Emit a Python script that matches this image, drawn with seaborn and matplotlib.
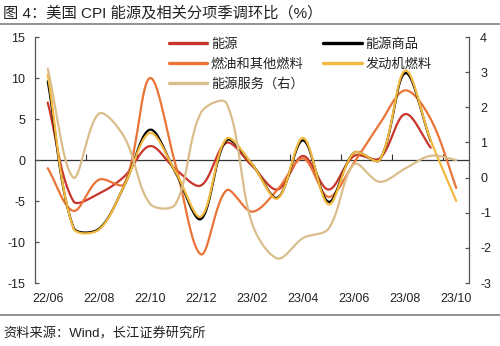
import numpy as np
import pandas as pd
import matplotlib
matplotlib.use("Agg")
import matplotlib.pyplot as plt
from matplotlib.lines import Line2D
import seaborn as sns

# Monthly m/m change (seasonally adjusted), %
months = ["22/06", "22/07", "22/08", "22/09", "22/10", "22/11", "22/12",
          "23/01", "23/02", "23/03", "23/04", "23/05", "23/06", "23/07",
          "23/08", "23/09", "23/10"]
energy = [7.0, -5.0, -4.1, -2.0, 1.7, -1.1, -3.1, 2.1, -0.7, -3.6, 0.5,
          -3.6, 0.5, 0.2, 5.6, 1.5, np.nan]
energy_goods = [9.6, -8.2, -8.4, -3.1, 3.7, -1.5, -7.2, 2.4, -0.5, -4.6, 2.4,
                -5.1, 0.9, 0.0, 10.6, 2.3, np.nan]
fuel_oil = [-1.0, -6.2, -2.4, -2.9, 10.0, -0.5, -11.5, -3.7, -6.3, -3.6, 0.2,
            -4.5, -0.3, 4.4, 8.5, 5.0, -3.4]
motor_fuel = [10.4, -8.3, -8.5, -3.1, 3.3, -1.4, -6.9, 2.6, -0.5, -4.7, 2.7,
              -5.4, 0.9, 0.0, 10.9, 2.4, -5.0]
energy_services = [3.1, 0.0, 1.82, 1.15, -0.74, -0.76, 1.85, 2.12, -1.3, -2.3,
                   -1.72, -1.45, 0.38, -0.12, 0.26, 0.62, 0.5]

names_left = ["能源", "燃油和其他燃料", "能源商品", "发动机燃料"]
name_right = "能源服务（右）"
colors = {"能源": "#C8352B", "燃油和其他燃料": "#EA7438", "能源商品": "#000000",
          "发动机燃料": "#F3B83E", name_right: "#D9BE8C"}


def smooth_xy(values, sx, sy, n=24):
    """Chord-weighted cubic Bezier path through the monthly points."""
    y = np.asarray(values, float)
    idx = np.flatnonzero(~np.isnan(y))
    P = np.column_stack([idx * sx, y[idx] * sy])
    m = len(P)
    parts = [P[:1]]
    t = np.linspace(0, 1, n)[1:, None]
    for k in range(m - 1):
        p0 = P[k - 1] if k > 0 else P[k]
        p1, p2 = P[k], P[k + 1]
        p3 = P[k + 2] if k + 2 < m else P[k + 1]
        d01 = np.hypot(*(p1 - p0))
        d12 = np.hypot(*(p2 - p1))
        d23 = np.hypot(*(p3 - p2))
        c1 = p1 + (p2 - p0) * (d12 / (d01 + d12)) / 3
        c2 = p2 - (p3 - p1) * (d12 / (d12 + d23)) / 3
        seg = ((1 - t) ** 3) * p1 + 3 * ((1 - t) ** 2) * t * c1 \
            + 3 * (1 - t) * t ** 2 * c2 + t ** 3 * p2
        parts.append(seg)
    pts = np.vstack(parts)
    return pts[:, 0] / sx, pts[:, 1] / sy


sns.set_theme(style="white")
plt.rcParams["font.family"] = ["Liberation Sans", "Noto Sans CJK SC"]
plt.rcParams["axes.unicode_minus"] = False

left_series = {"能源": energy, "燃油和其他燃料": fuel_oil,
               "能源商品": energy_goods, "发动机燃料": motor_fuel}
frames = []
for name in names_left:
    xs, ys = smooth_xy(left_series[name], 25.5, 8.2)
    frames.append(pd.DataFrame({"x": xs, "value": ys, "series": name}))
df_left = pd.concat(frames, ignore_index=True)

xs, ys = smooth_xy(energy_services, 25.5, 35.1)
df_right = pd.DataFrame({"x": xs, "value": ys, "series": name_right})

fig = plt.figure(figsize=(5.0, 3.46), dpi=100)
ax = fig.add_axes([0.07, 0.182, 0.868, 0.711])

sns.lineplot(data=df_left, x="x", y="value", hue="series", hue_order=names_left,
             palette=colors, sort=False, estimator=None, linewidth=1.6,
             legend=False, ax=ax)
ax2 = ax.twinx()
sns.lineplot(data=df_right, x="x", y="value", color=colors[name_right],
             sort=False, estimator=None, linewidth=1.6, legend=False, ax=ax2)

ax.set_xlim(-0.5, 16.5)
ax.set_ylim(-15, 15)
ax2.set_ylim(-3, 4)
ax.set_yticks(np.arange(-15, 16, 5))
ax2.set_yticks(np.arange(-3, 5, 1))
ax.set_xticks(np.arange(0, len(months), 2))
ax.set_xticklabels(months[::2])
for a in (ax, ax2):
    a.set_xlabel("")
    a.set_ylabel("")

spine_col = "#555555"
text_col = "#222222"
ax.spines["top"].set_visible(False)
ax.spines["bottom"].set_visible(False)
ax.spines["right"].set_visible(False)
ax.spines["left"].set_color(spine_col)
ax2.spines["top"].set_visible(False)
ax2.spines["bottom"].set_visible(False)
ax2.spines["left"].set_visible(False)
ax2.spines["right"].set_color(spine_col)
for a in (ax, ax2):
    for s in a.spines.values():
        s.set_linewidth(0.9)

ax.tick_params(axis="x", length=0, pad=7, labelsize=9, labelcolor=text_col)
ax.tick_params(axis="y", direction="in", length=3, width=0.9, color=spine_col,
               pad=7, labelsize=9, labelcolor=text_col, left=True)
ax2.tick_params(axis="y", direction="in", length=3, width=0.9, color=spine_col,
                pad=8, labelsize=9, labelcolor=text_col, right=True)

# zero line of the left axis with its own tick marks
zero_axis = ax.secondary_xaxis(0.5)
zero_axis.set_xticks(np.arange(1.5, 16, 2))
zero_axis.tick_params(axis="x", direction="out", length=4, width=0.8,
                      color="#333333", labeltop=False, labelbottom=False)
for s in zero_axis.spines.values():
    s.set_color("#333333")
    s.set_linewidth(0.9)

order = ["能源", "燃油和其他燃料", name_right, "能源商品", "发动机燃料"]
handles = [Line2D([], [], color=colors[k], lw=2.4) for k in order]
ax2.legend(handles, order, ncol=2, loc="upper left",
           bbox_to_anchor=(0.305, 1.0), frameon=False, fontsize=9.5,
           handlelength=2.9, handletextpad=0.3, columnspacing=1.5,
           labelspacing=0.55, borderaxespad=0, borderpad=0.1,
           labelcolor=text_col)

fig.text(0.006, 0.963, "图 4：美国 CPI 能源及相关分项季调环比（%）",
         fontsize=11, ha="left", va="center", color=text_col)
fig.add_artist(Line2D([0, 1], [0.931, 0.931], transform=fig.transFigure,
                      color="#7f7f7f", lw=1.2))
fig.add_artist(Line2D([0, 1], [0.0896, 0.0896], transform=fig.transFigure,
                      color="#7f7f7f", lw=1.2))
fig.text(0.006, 0.035, "资料来源：Wind，长江证券研究所", fontsize=9.5,
         ha="left", va="center", color=text_col)

fig.savefig("out.png", dpi=100)
